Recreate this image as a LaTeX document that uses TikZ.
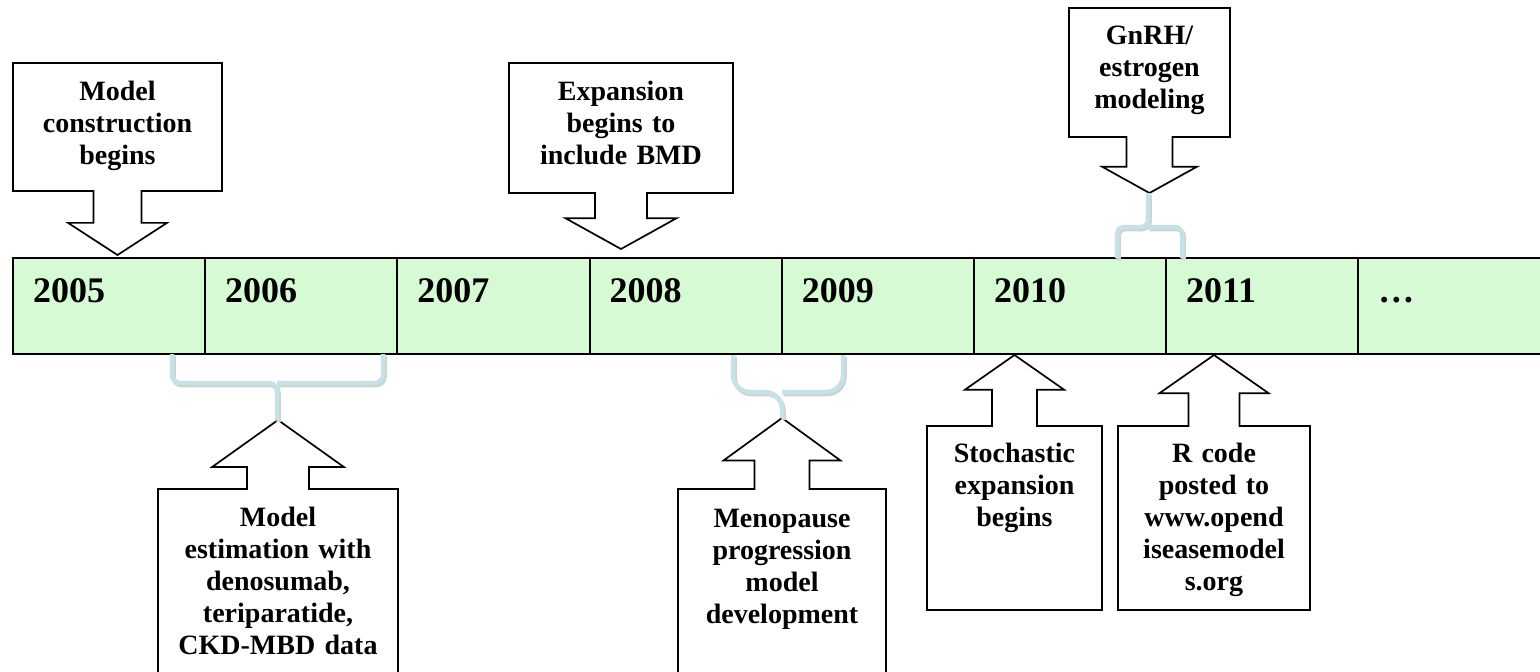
\documentclass[tikz,border=0pt]{standalone}
\usepackage{fontspec}
\setmainfont{Liberation Serif}
\usetikzlibrary{shapes.arrows,positioning}

\definecolor{cellgreen}{RGB}{213,250,212}
\definecolor{bracecol}{RGB}{196,226,232}

\tikzset{
  cell/.style={draw, fill=cellgreen, line width=2pt, minimum width=192.2pt,
    minimum height=96pt, text width=152.2pt, inner xsep=20pt, inner ysep=0pt,
    outer sep=0pt, text height=44pt, text depth=52pt, align=left,
    font=\fontsize{36}{40}\selectfont\bfseries},
  callout/.style={arrow box, draw, fill=white, line width=1.7pt, inner sep=0pt,
    outer sep=0pt},
  note/.style={text width=240pt, align=center, inner sep=0pt, anchor=base,
    font=\fontsize{28}{32}\selectfont\bfseries},
  brace/.style={draw=bracecol, line width=4.5pt, rounded corners=#1},
  brace shadow/.style={draw=black!18, line width=4.5pt, rounded corners=#1,
    transform canvas={shift={(1.5pt,-2pt)}}}
}

\begin{document}
\begin{tikzpicture}[x=1pt,y=-1pt]
\clip (0,0) rectangle (1540,672);

% the years
\node[cell, anchor=north west] (c2005) at (13,258) {2005};
\node[cell, right=0pt of c2005] (c2006) {2006};
\node[cell, right=0pt of c2006] (c2007) {2007};
\node[cell, right=0pt of c2007] (c2008) {2008};
\node[cell, right=0pt of c2008] (c2009) {2009};
\node[cell, right=0pt of c2009] (c2010) {2010};
\node[cell, right=0pt of c2010] (c2011) {2011};
\node[cell, right=0pt of c2011] (cmore) {\dots};

% callouts above the bar
\node[callout, minimum width=209pt, minimum height=128pt,
  arrow box shaft width=48pt, arrow box head extend=25.5pt,
  arrow box tip angle=114, arrow box arrows={south:64pt}] (construct) at (117.5,127) {};
\node[note] (tconstruct) at (117.5,100) {Model\\construction\\begins};

\node[callout, minimum width=224pt, minimum height=130pt,
  arrow box shaft width=52pt, arrow box head extend=29.5pt,
  arrow box tip angle=122, arrow box arrows={south:56pt}] (bmd) at (621,128) {};
\node[note] (tbmd) at (621,100) {Expansion\\begins to\\include BMD};

\node[callout, minimum width=161pt, minimum height=129pt,
  arrow box shaft width=46pt, arrow box head extend=24.5pt,
  arrow box tip angle=122, arrow box arrows={south:56pt}] (gnrh) at (1149.5,72.5) {};
\node[note] (tgnrh) at (1149.5,44) {GnRH/\\estrogen\\modeling};

% callouts below the bar
\node[callout, minimum width=240pt, minimum height=240pt,
  arrow box shaft width=62pt, arrow box head extend=35pt,
  arrow box tip angle=109, arrow box arrows={north:69pt}] (estim) at (278,609) {};
\node[note] (testim) at (278,526) {Model\\estimation with\\denosumab,\\teriparatide,\\CKD-MBD data};

\node[callout, minimum width=208pt, minimum height=240pt,
  arrow box shaft width=55pt, arrow box head extend=31pt,
  arrow box tip angle=108, arrow box arrows={north:71pt}] (meno) at (782,609) {};
\node[note] (tmeno) at (782,527) {Menopause\\progression\\model\\development};

\node[callout, minimum width=175pt, minimum height=184pt,
  arrow box shaft width=45pt, arrow box head extend=27pt,
  arrow box tip angle=110, arrow box arrows={north:71pt}] (stoch) at (1014.5,518) {};
\node[note] (tstoch) at (1014.5,462) {Stochastic\\expansion\\begins};

\node[callout, minimum width=192pt, minimum height=184pt,
  arrow box shaft width=51pt, arrow box head extend=29pt,
  arrow box tip angle=110, arrow box arrows={north:71pt}] (rcode) at (1214,518) {};
\node[note] (trcode) at (1214,462) {R code\\posted to\\www.opend\\iseasemodel\\s.org};

% braces
\coordinate (e1) at (172,354);
\coordinate (e2) at (383,354);
\coordinate (em) at (277,383);
\coordinate (et) at (277,420);
\coordinate (m1) at (733,355);
\coordinate (m2) at (843,355);
\coordinate (mm) at (782,392);
\coordinate (mt) at (782,418);
\coordinate (g1) at (1117,258);
\coordinate (g2) at (1182,258);
\coordinate (gm) at (1148,227);
\coordinate (gt) at (1148,193);

\draw[brace shadow=8pt] (e1) |- (em) -- (et) (e2) |- (em);
\draw[brace=8pt] (e1) |- (em) -- (et) (e2) |- (em);
\draw[brace shadow=17pt] (m1) |- (mm) -- (mt) (m2) |- (mm);
\draw[brace=17pt] (m1) |- (mm) -- (mt) (m2) |- (mm);
\draw[brace shadow=7pt] (g1) |- (gm) -- (gt) (g2) |- (gm);
\draw[brace=7pt] (g1) |- (gm) -- (gt) (g2) |- (gm);

\end{tikzpicture}
\end{document}
